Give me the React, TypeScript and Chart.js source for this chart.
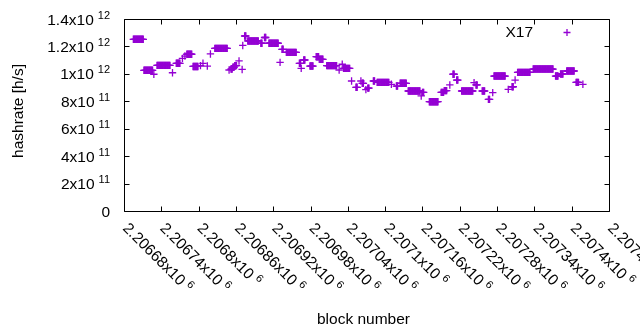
import { useEffect, useRef } from "react";
import { Chart, registerables } from "chart.js";

Chart.register(...registerables);

// ---------- data ----------
const seriesName = "X17";
const xMin = 2206680;
const xMax = 2207460;
const xTicks = [
  2206680, 2206740, 2206800, 2206860, 2206920, 2206980, 2207040,
  2207100, 2207160, 2207220, 2207280, 2207340, 2207400, 2207460,
];
const xTickLabels = [
  "2.20668x10^6", "2.20674x10^6", "2.2068x10^6", "2.20686x10^6",
  "2.20692x10^6", "2.20698x10^6", "2.20704x10^6", "2.2071x10^6",
  "2.20716x10^6", "2.20722x10^6", "2.20728x10^6", "2.20734x10^6",
  "2.2074x10^6", "2.20746x10^6",
];
const yMin = 0;
const yMax = 1.4e12;
const yTicks = [0, 2e11, 4e11, 6e11, 8e11, 1e12, 1.2e12, 1.4e12];
const yTickLabels = [
  "0", "2x10^11", "4x10^11", "6x10^11", "8x10^11",
  "1x10^12", "1.2x10^12", "1.4x10^12",
];

// runs of consecutive blocks sharing the same hashrate (GH/s -> x1e9 h/s)
const runStart = [
  2206695, 2206712, 2206728, 2206733, 2206758, 2206764, 2206774, 2206778,
  2206781, 2206791, 2206803, 2206807, 2206814, 2206819, 2206826, 2206849,
  2206852, 2206855, 2206858, 2206865, 2206870, 2206871, 2206874, 2206879,
  2206900, 2206906, 2206913, 2206931, 2206934, 2206941, 2206962, 2206965,
  2206969, 2206979, 2206989, 2206994, 2207006, 2207026, 2207031, 2207033,
  2207046, 2207053, 2207061, 2207063, 2207069, 2207072, 2207081, 2207087,
  2207110, 2207118, 2207124, 2207137, 2207158, 2207160, 2207171, 2207190,
  2207195, 2207204, 2207209, 2207215, 2207223, 2207243, 2207246, 2207256,
  2207266, 2207273, 2207275, 2207298, 2207304, 2207309, 2207313, 2207338,
  2207374, 2207382, 2207392, 2207407, 2207418,
];
const runEnd = [
  2206711, 2206726, 2206728, 2206754, 2206758, 2206770, 2206774, 2206778,
  2206789, 2206799, 2206803, 2206807, 2206814, 2206819, 2206846, 2206849,
  2206854, 2206857, 2206861, 2206865, 2206870, 2206871, 2206876, 2206896,
  2206902, 2206908, 2206928, 2206931, 2206936, 2206957, 2206964, 2206965,
  2206971, 2206984, 2206993, 2207000, 2207022, 2207026, 2207031, 2207043,
  2207046, 2207055, 2207061, 2207065, 2207069, 2207074, 2207083, 2207106,
  2207110, 2207120, 2207134, 2207156, 2207158, 2207162, 2207185, 2207194,
  2207199, 2207204, 2207211, 2207217, 2207241, 2207243, 2207248, 2207260,
  2207268, 2207273, 2207293, 2207298, 2207306, 2207309, 2207333, 2207370,
  2207378, 2207386, 2207404, 2207411, 2207418,
];
const runHashrate = [
  1252, 1026, 997, 1062, 1008, 1077, 1113, 1130,
  1143, 1054, 1060, 1077, 1057, 1145, 1186, 1028,
  1035, 1048, 1060, 1094, 1032, 1207, 1276, 1240,
  1223, 1265, 1223, 1084, 1179, 1157, 1077, 1040,
  1101, 1057, 1125, 1106, 1060, 1028, 1070, 1040,
  948, 902, 948, 931, 885, 896, 948, 938,
  924, 911, 931, 875, 839, 865, 797, 865,
  878, 919, 997, 955, 875, 936, 919, 875,
  814, 863, 984, 887, 906, 955, 1011, 1035,
  984, 999, 1021, 938, 924,
];

// ---------- style ----------
const COLOR = "#9400D3";
const FONT = "Liberation Sans, Arial, sans-serif";
const MAIN_SIZE = 15.5;
const SUP_SIZE = 11;

function buildPoints() {
  const pts: { x: number; y: number }[] = [];
  for (let i = 0; i < runStart.length; i++) {
    for (let b = runStart[i]; b <= runEnd[i]; b++) {
      pts.push({ x: b, y: runHashrate[i] * 1e9 });
    }
  }
  return pts;
}

const framePlugin = {
  id: "gnuplotFrame",
  beforeDatasetsDraw(chart: any) {
    const ctx: CanvasRenderingContext2D = chart.ctx;
    const { left, right, top, bottom } = chart.chartArea;
    const xs = chart.scales.x;
    const ys = chart.scales.y;
    const tl = 5;
    ctx.save();
    ctx.strokeStyle = "#000";
    ctx.lineWidth = 1;
    ctx.beginPath();
    const L = Math.round(left) + 0.5;
    const R = Math.round(right) + 0.5;
    const T = Math.round(top) + 0.5;
    const B = Math.round(bottom) + 0.5;
    ctx.rect(L, T, R - L, B - T);
    xTicks.forEach((v) => {
      const px = Math.round(xs.getPixelForValue(v)) + 0.5;
      ctx.moveTo(px, B);
      ctx.lineTo(px, B - tl);
      ctx.moveTo(px, T);
      ctx.lineTo(px, T + tl);
    });
    yTicks.forEach((v) => {
      const py = Math.round(ys.getPixelForValue(v)) + 0.5;
      ctx.moveTo(L, py);
      ctx.lineTo(L + tl, py);
      ctx.moveTo(R, py);
      ctx.lineTo(R - tl, py);
    });
    ctx.stroke();

    ctx.fillStyle = "#000";
    // y tick labels
    yTicks.forEach((v, i) => {
      const py = ys.getPixelForValue(v);
      const [main, sup] = yTickLabels[i].split("^");
      ctx.font = `${MAIN_SIZE}px ${FONT}`;
      const wm = ctx.measureText(main).width;
      let ws = 0;
      const gap = sup ? 4 : 0;
      if (sup) {
        ctx.font = `${SUP_SIZE}px ${FONT}`;
        ws = ctx.measureText(sup).width;
      }
      const start = left - 14 - (wm + gap + ws);
      const base = py + 5.5;
      ctx.textAlign = "left";
      ctx.textBaseline = "alphabetic";
      ctx.font = `${MAIN_SIZE}px ${FONT}`;
      ctx.fillText(main, start, base);
      if (sup) {
        ctx.font = `${SUP_SIZE}px ${FONT}`;
        ctx.fillText(sup, start + wm + gap, base - 6);
      }
    });
    // x tick labels (rotated)
    xTicks.forEach((v, i) => {
      const px = xs.getPixelForValue(v);
      const [main, sup] = xTickLabels[i].split("^");
      ctx.save();
      ctx.translate(px - 2, bottom + 18);
      ctx.rotate(Math.PI / 4);
      ctx.textAlign = "left";
      ctx.textBaseline = "alphabetic";
      ctx.font = `${MAIN_SIZE}px ${FONT}`;
      const wm = ctx.measureText(main).width;
      ctx.fillText(main, 0, 0);
      if (sup) {
        ctx.font = `${SUP_SIZE}px ${FONT}`;
        ctx.fillText(sup, wm + 4, -6);
      }
      ctx.restore();
    });
    // axis titles
    ctx.font = `${MAIN_SIZE}px ${FONT}`;
    ctx.textAlign = "center";
    ctx.textBaseline = "alphabetic";
    ctx.fillText("block number", (left + right) / 2 - 3, 324);
    ctx.save();
    ctx.translate(23, (top + bottom) / 2 - 4);
    ctx.rotate(-Math.PI / 2);
    ctx.fillText("hashrate [h/s]", 0, 0);
    ctx.restore();

    // legend
    ctx.textAlign = "right";
    ctx.fillText(seriesName, 533, 37);
    ctx.strokeStyle = COLOR;
    ctx.lineWidth = 1.3;
    ctx.beginPath();
    ctx.moveTo(563.5, 32.5);
    ctx.lineTo(570.5, 32.5);
    ctx.moveTo(567, 29);
    ctx.lineTo(567, 36);
    ctx.stroke();
    ctx.restore();
  },
};

export default function App() {
  const ref = useRef<HTMLCanvasElement | null>(null);
  useEffect(() => {
    document.body.style.margin = "0";
    const canvas = ref.current;
    if (!canvas) return;
    const chart = new Chart(canvas, {
      type: "scatter",
      data: {
        datasets: [
          {
            label: seriesName,
            data: buildPoints(),
            pointStyle: "cross",
            pointRadius: 3.7,
            pointHoverRadius: 3.7,
            pointBorderWidth: 1.3,
            borderColor: COLOR,
            backgroundColor: COLOR,
          },
        ],
      },
      options: {
        responsive: false,
        animation: false,
        devicePixelRatio: 1,
        events: [],
        layout: { padding: { left: 124, right: 31, top: 19, bottom: 119 } },
        scales: {
          x: { type: "linear", min: xMin, max: xMax, display: false },
          y: { type: "linear", min: yMin, max: yMax, display: false },
        },
        plugins: { legend: { display: false }, tooltip: { enabled: false } },
      },
      plugins: [framePlugin],
    });
    return () => chart.destroy();
  }, []);
  return (
    <div style={{ width: 640, height: 330, background: "#fff" }}>
      <canvas ref={ref} width={640} height={330} />
    </div>
  );
}
